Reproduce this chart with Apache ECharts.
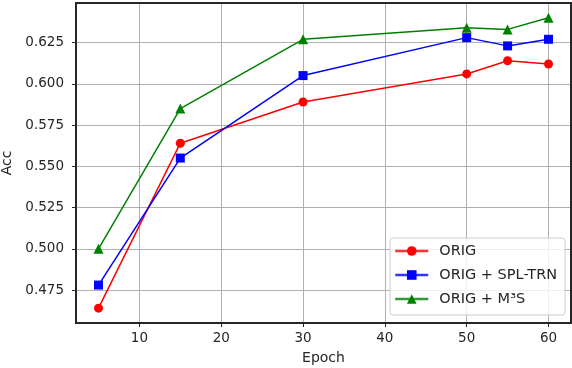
<!DOCTYPE html>
<html>
<head>
<meta charset="utf-8">
<script src="https://cdn.jsdelivr.net/npm/echarts@6/dist/echarts.min.js"></script>
<style>
  html, body { margin: 0; padding: 0; background: #fff; }
  #chart { width: 572px; height: 368px; }
</style>
</head>
<body>
<div id="chart"></div>
<script>
// data
const epochs = [5, 15, 30, 50, 55, 60]
const accOrig = [0.464, 0.564, 0.589, 0.606, 0.614, 0.612]
const accSplTrn = [0.478, 0.555, 0.605, 0.628, 0.623, 0.627]
const accM3s = [0.500, 0.585, 0.627, 0.634, 0.633, 0.640]
const seriesNames = ['ORIG', 'ORIG + SPL-TRN', 'ORIG + M³S']

const font = 'DejaVu Sans'
const textColor = '#262626'
const frameColor = '#262626'

const pairs = (ys) => epochs.map((x, i) => [x, ys[i]])

const makeSeries = (name, ys, color, symbol) => ({
  name,
  type: 'line',
  data: pairs(ys),
  symbol,
  symbolSize: symbol === 'triangle' ? 10 : 9,
  showSymbol: true,
  lineStyle: { color, width: 1.5 },
  itemStyle: { color },
  emphasis: { disabled: true },
  z: 5
})

const chart = echarts.init(document.getElementById('chart'))
chart.setOption({
  animation: false,
  grid: {
    left: 76, right: 1, top: 3, bottom: 45,
    outerBoundsMode: 'none',
    containLabel: false,
    show: true,
    borderColor: frameColor,
    borderWidth: 2,
    z: 3
  },
  xAxis: {
    type: 'value',
    min: 2.25,
    max: 62.75,
    minInterval: 10,
    maxInterval: 10,
    name: 'Epoch',
    nameLocation: 'middle',
    nameGap: 28,
    nameTextStyle: { fontFamily: font, fontSize: 14, color: textColor },
    axisLine: { show: true, lineStyle: { color: frameColor, width: 2 } },
    axisTick: { show: true, length: 4, lineStyle: { color: frameColor } },
    axisLabel: {
      fontFamily: font, fontSize: 13.5, color: textColor, margin: 8,
      showMinLabel: false, showMaxLabel: false,
      formatter: (v) => (Math.abs(v % 10) < 1e-6 ? String(v) : '')
    },
    splitLine: { show: true, lineStyle: { color: '#b0b0b0', width: 1 } }
  },
  yAxis: {
    type: 'value',
    min: 0.455,
    max: 0.649,
    minInterval: 0.025,
    maxInterval: 0.025,
    name: 'Acc',
    nameLocation: 'middle',
    nameRotate: 90,
    nameGap: 57,
    nameTextStyle: { fontFamily: font, fontSize: 14, color: textColor },
    axisLine: { show: true, lineStyle: { color: frameColor, width: 2 } },
    axisTick: { show: true, length: 4, lineStyle: { color: frameColor } },
    axisLabel: {
      fontFamily: font, fontSize: 13.5, color: textColor, margin: 12,
      showMinLabel: false, showMaxLabel: false,
      formatter: (v) => v.toFixed(3)
    },
    splitLine: { show: true, lineStyle: { color: '#b0b0b0', width: 1 } }
  },
  legend: {
    orient: 'vertical',
    left: 390,
    top: 238,
    padding: [4, 8, 7, 4],
    itemGap: 6,
    itemWidth: 33,
    itemHeight: 12,
    backgroundColor: 'rgba(255,255,255,0.8)',
    borderColor: '#cccccc',
    borderWidth: 1,
    borderRadius: 3,
    data: seriesNames,
    lineStyle: { width: 2.5, opacity: 0.8 },
    textStyle: { fontFamily: font, fontSize: 14.5, color: textColor, padding: [0, 0, 0, 6], lineHeight: 18 },
    z: 10
  },
  series: [
    makeSeries(seriesNames[0], accOrig, '#ff0000', 'circle'),
    makeSeries(seriesNames[1], accSplTrn, '#0000ff', 'rect'),
    makeSeries(seriesNames[2], accM3s, '#008000', 'triangle')
  ]
})
</script>
</body>
</html>
